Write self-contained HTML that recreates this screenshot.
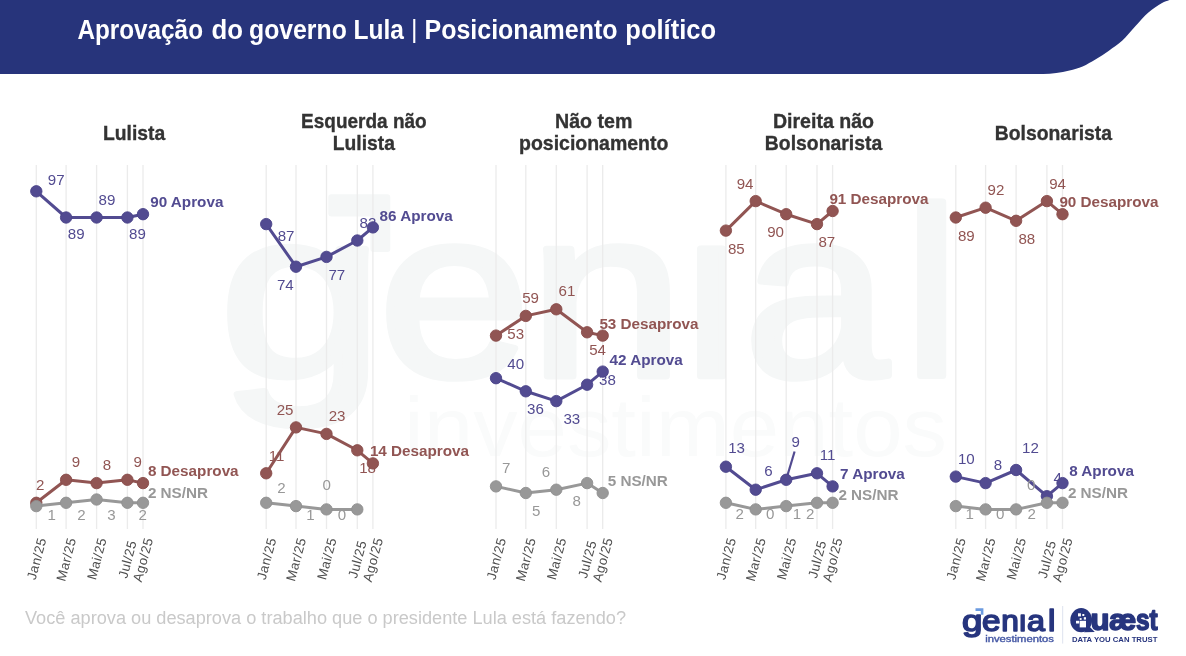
<!DOCTYPE html>
<html lang="pt-BR"><head><meta charset="utf-8"><title>Aprovação do governo Lula | Posicionamento político</title>
<style>html,body{margin:0;padding:0;background:#fff;}body{width:1186px;height:656px;overflow:hidden;}svg{display:block;}
text{font-family:"Liberation Sans",sans-serif;}
.lb{font-size:15.1px;text-anchor:middle;}
.eb{font-size:15.25px;font-weight:bold;}
.ax{font-size:13.3px;fill:#4d4d4d;text-anchor:end;letter-spacing:0.5px;}
.pt{font-size:20.8px;font-weight:bold;fill:#333333;stroke:#333333;stroke-width:0.35px;}
</style></head><body>
<svg width="1186" height="656" viewBox="0 0 1186 656">
<rect width="1186" height="656" fill="#ffffff"/>
<g id="wm" fill="#f5f7f7" stroke="#f5f7f7">
<text y="376" font-size="240" stroke-width="7" stroke-linejoin="round"><tspan x="219.00" textLength="164.77" lengthAdjust="spacingAndGlyphs">g</tspan><tspan x="378.50" textLength="151.79" lengthAdjust="spacingAndGlyphs">e</tspan><tspan x="528.50" textLength="155.48" lengthAdjust="spacingAndGlyphs">n</tspan><tspan x="684.00" textLength="55.18" lengthAdjust="spacingAndGlyphs">i</tspan><tspan x="744.00" textLength="144.18" lengthAdjust="spacingAndGlyphs">a</tspan><tspan x="904.00" textLength="55.18" lengthAdjust="spacingAndGlyphs">l</tspan></text>
<rect x="688" y="186" width="47" height="50" fill="#ffffff" stroke="none"/>
<path d="M331.5 194.3H387a3.3 3.3 0 0 1 3.3 3.3V249a3 3 0 0 1 -3 3H373.4a3 3 0 0 1 -3 -3V216.5H331.5a3.2 3.2 0 0 1 -3.2 -3.2V197.5a3.2 3.2 0 0 1 3.2 -3.2Z" stroke="none"/>
<text x="404" y="455.9" font-size="84" fill="#fafbfb" stroke="none" textLength="543" lengthAdjust="spacingAndGlyphs">investimentos</text>
</g>
<path d="M0 0H1169.5C1166.9 1.1 1165.1 1.2 1161.6 3.3C1158.1 5.4 1152.8 8.7 1148.4 12.5C1144.0 16.3 1139.7 21.6 1135.3 26.3C1130.9 31.0 1126.5 36.7 1122.1 40.8C1117.7 44.9 1113.3 47.6 1108.9 50.7C1104.5 53.8 1100.2 56.6 1095.8 59.2C1091.4 61.8 1087.0 64.5 1082.6 66.4C1078.2 68.3 1073.9 69.3 1069.5 70.4C1065.1 71.5 1060.7 72.4 1056.3 73.0C1051.9 73.6 1047.6 73.8 1043.2 74.0C1038.8 74.2 1034.4 74.0 1030.0 74.0H0Z" fill="#27347b"/>
<text font-size="27" font-weight="bold" fill="#ffffff"><tspan x="77.4" y="38.8" textLength="125.6" lengthAdjust="spacingAndGlyphs">Aprovação</tspan> <tspan x="211.6" y="38.8" textLength="31.5" lengthAdjust="spacingAndGlyphs">do</tspan> <tspan x="249.0" y="38.8" textLength="97.8" lengthAdjust="spacingAndGlyphs">governo</tspan> <tspan x="353.6" y="38.8" textLength="50.4" lengthAdjust="spacingAndGlyphs">Lula</tspan> <tspan x="411.1" y="38.2" font-weight="normal" font-size="25">|</tspan> <tspan x="424.5" y="38.8" textLength="193.0" lengthAdjust="spacingAndGlyphs">Posicionamento</tspan> <tspan x="625.3" y="38.8" textLength="90.7" lengthAdjust="spacingAndGlyphs">político</tspan></text>
<g>
<text class="pt"><tspan x="103.0" y="139.5" textLength="62.1" lengthAdjust="spacingAndGlyphs">Lulista</tspan></text>
<line x1="36.3" x2="36.3" y1="165" y2="529" stroke="#ebebeb" stroke-width="1.3"/>
<line x1="66.1" x2="66.1" y1="165" y2="529" stroke="#ebebeb" stroke-width="1.3"/>
<line x1="96.6" x2="96.6" y1="165" y2="529" stroke="#ebebeb" stroke-width="1.3"/>
<line x1="127.4" x2="127.4" y1="165" y2="529" stroke="#ebebeb" stroke-width="1.3"/>
<line x1="143.0" x2="143.0" y1="165" y2="529" stroke="#ebebeb" stroke-width="1.3"/>
<g fill="#524b91" stroke="none">
<text class="lb" x="56.2" y="185.3">97</text>
<text class="lb" x="76.2" y="238.8">89</text>
<text class="lb" x="107.0" y="205.0">89</text>
<text class="lb" x="137.5" y="238.8">89</text>
<polyline points="36.3,191.3 66.1,217.5 96.6,217.5 127.4,217.5 143.0,214.2" fill="none" stroke="#524b91" stroke-width="3" stroke-linejoin="round"/>
<circle cx="36.3" cy="191.3" r="5.7" stroke="#4a4389" stroke-width="0.9"/>
<circle cx="66.1" cy="217.5" r="5.7" stroke="#4a4389" stroke-width="0.9"/>
<circle cx="96.6" cy="217.5" r="5.7" stroke="#4a4389" stroke-width="0.9"/>
<circle cx="127.4" cy="217.5" r="5.7" stroke="#4a4389" stroke-width="0.9"/>
<circle cx="143.0" cy="214.2" r="5.7" stroke="#4a4389" stroke-width="0.9"/>
<text class="eb" x="150.2" y="207.2">90 Aprova</text>
</g>
<g fill="#915553" stroke="none">
<text class="lb" x="40.2" y="489.7">2</text>
<text class="lb" x="76.0" y="466.9">9</text>
<text class="lb" x="107.0" y="470.1">8</text>
<text class="lb" x="137.8" y="466.9">9</text>
<polyline points="36.3,502.8 66.1,479.8 96.6,483.1 127.4,479.8 143.0,483.1" fill="none" stroke="#915553" stroke-width="3" stroke-linejoin="round"/>
<circle cx="36.3" cy="502.8" r="5.7" stroke="#894c4a" stroke-width="0.9"/>
<circle cx="66.1" cy="479.8" r="5.7" stroke="#894c4a" stroke-width="0.9"/>
<circle cx="96.6" cy="483.1" r="5.7" stroke="#894c4a" stroke-width="0.9"/>
<circle cx="127.4" cy="479.8" r="5.7" stroke="#894c4a" stroke-width="0.9"/>
<circle cx="143.0" cy="483.1" r="5.7" stroke="#894c4a" stroke-width="0.9"/>
<text class="eb" x="147.9" y="476.2">8 Desaprova</text>
</g>
<g fill="#989898" stroke="none">
<text class="lb" x="51.7" y="519.5">1</text>
<text class="lb" x="81.5" y="519.5">2</text>
<text class="lb" x="111.5" y="519.5">3</text>
<text class="lb" x="142.7" y="519.5">2</text>
<polyline points="36.3,506.1 66.1,502.8 96.6,499.5 127.4,502.8 143.0,502.8" fill="none" stroke="#989898" stroke-width="3" stroke-linejoin="round"/>
<circle cx="36.3" cy="506.1" r="5.7" stroke="#909090" stroke-width="0.9"/>
<circle cx="66.1" cy="502.8" r="5.7" stroke="#909090" stroke-width="0.9"/>
<circle cx="96.6" cy="499.5" r="5.7" stroke="#909090" stroke-width="0.9"/>
<circle cx="127.4" cy="502.8" r="5.7" stroke="#909090" stroke-width="0.9"/>
<circle cx="143.0" cy="502.8" r="5.7" stroke="#909090" stroke-width="0.9"/>
<text class="eb" x="147.9" y="498.0">2 NS/NR</text>
</g>
<text class="ax" transform="translate(46.6,539.1) rotate(-75)">Jan/25</text>
<text class="ax" transform="translate(76.4,539.1) rotate(-75)">Mar/25</text>
<text class="ax" transform="translate(106.9,539.1) rotate(-75)">Mai/25</text>
<text class="ax" transform="translate(136.9,541.9) rotate(-75)">Jul/25</text>
<text class="ax" transform="translate(153.3,539.1) rotate(-75)">Ago/25</text>
</g>
<g>
<text class="pt"><tspan x="301.1" y="128.4" textLength="125.6" lengthAdjust="spacingAndGlyphs">Esquerda não</tspan> <tspan x="332.8" y="150.3" textLength="62.1" lengthAdjust="spacingAndGlyphs">Lulista</tspan></text>
<line x1="266.2" x2="266.2" y1="165" y2="529" stroke="#ebebeb" stroke-width="1.3"/>
<line x1="296.0" x2="296.0" y1="165" y2="529" stroke="#ebebeb" stroke-width="1.3"/>
<line x1="326.5" x2="326.5" y1="165" y2="529" stroke="#ebebeb" stroke-width="1.3"/>
<line x1="357.3" x2="357.3" y1="165" y2="529" stroke="#ebebeb" stroke-width="1.3"/>
<line x1="372.9" x2="372.9" y1="165" y2="529" stroke="#ebebeb" stroke-width="1.3"/>
<g fill="#524b91" stroke="none">
<text class="lb" x="286.1" y="241.0">87</text>
<text class="lb" x="285.3" y="290.0">74</text>
<text class="lb" x="336.8" y="280.2">77</text>
<text class="lb" x="367.9" y="228.0">82</text>
<polyline points="266.2,224.1 296.0,266.7 326.5,256.9 357.3,240.5 372.9,227.4" fill="none" stroke="#524b91" stroke-width="3" stroke-linejoin="round"/>
<circle cx="266.2" cy="224.1" r="5.7" stroke="#4a4389" stroke-width="0.9"/>
<circle cx="296.0" cy="266.7" r="5.7" stroke="#4a4389" stroke-width="0.9"/>
<circle cx="326.5" cy="256.9" r="5.7" stroke="#4a4389" stroke-width="0.9"/>
<circle cx="357.3" cy="240.5" r="5.7" stroke="#4a4389" stroke-width="0.9"/>
<circle cx="372.9" cy="227.4" r="5.7" stroke="#4a4389" stroke-width="0.9"/>
<text class="eb" x="379.6" y="221.0">86 Aprova</text>
</g>
<g fill="#915553" stroke="none">
<text class="lb" x="276.6" y="460.5">11</text>
<text class="lb" x="285.1" y="414.6">25</text>
<text class="lb" x="337.1" y="420.7">23</text>
<text class="lb" x="367.6" y="473.4">18</text>
<polyline points="266.2,473.3 296.0,427.4 326.5,433.9 357.3,450.3 372.9,463.4" fill="none" stroke="#915553" stroke-width="3" stroke-linejoin="round"/>
<circle cx="266.2" cy="473.3" r="5.7" stroke="#894c4a" stroke-width="0.9"/>
<circle cx="296.0" cy="427.4" r="5.7" stroke="#894c4a" stroke-width="0.9"/>
<circle cx="326.5" cy="433.9" r="5.7" stroke="#894c4a" stroke-width="0.9"/>
<circle cx="357.3" cy="450.3" r="5.7" stroke="#894c4a" stroke-width="0.9"/>
<circle cx="372.9" cy="463.4" r="5.7" stroke="#894c4a" stroke-width="0.9"/>
<text class="eb" x="369.9" y="456.3">14 Desaprova</text>
</g>
<g fill="#989898" stroke="none">
<text class="lb" x="281.5" y="493.4">2</text>
<text class="lb" x="326.6" y="489.8">0</text>
<text class="lb" x="310.5" y="519.5">1</text>
<text class="lb" x="342.0" y="519.5">0</text>
<polyline points="266.2,502.8 296.0,506.1 326.5,509.4 357.3,509.4" fill="none" stroke="#989898" stroke-width="3" stroke-linejoin="round"/>
<circle cx="266.2" cy="502.8" r="5.7" stroke="#909090" stroke-width="0.9"/>
<circle cx="296.0" cy="506.1" r="5.7" stroke="#909090" stroke-width="0.9"/>
<circle cx="326.5" cy="509.4" r="5.7" stroke="#909090" stroke-width="0.9"/>
<circle cx="357.3" cy="509.4" r="5.7" stroke="#909090" stroke-width="0.9"/>
</g>
<text class="ax" transform="translate(276.5,539.1) rotate(-75)">Jan/25</text>
<text class="ax" transform="translate(306.3,539.1) rotate(-75)">Mar/25</text>
<text class="ax" transform="translate(336.8,539.1) rotate(-75)">Mai/25</text>
<text class="ax" transform="translate(366.8,541.9) rotate(-75)">Jul/25</text>
<text class="ax" transform="translate(383.2,539.1) rotate(-75)">Ago/25</text>
</g>
<g>
<text class="pt"><tspan x="555.0" y="128.4" textLength="77.4" lengthAdjust="spacingAndGlyphs">Não tem</tspan> <tspan x="519.0" y="150.3" textLength="149.4" lengthAdjust="spacingAndGlyphs">posicionamento</tspan></text>
<line x1="496.0" x2="496.0" y1="165" y2="529" stroke="#ebebeb" stroke-width="1.3"/>
<line x1="525.8" x2="525.8" y1="165" y2="529" stroke="#ebebeb" stroke-width="1.3"/>
<line x1="556.3" x2="556.3" y1="165" y2="529" stroke="#ebebeb" stroke-width="1.3"/>
<line x1="587.1" x2="587.1" y1="165" y2="529" stroke="#ebebeb" stroke-width="1.3"/>
<line x1="602.7" x2="602.7" y1="165" y2="529" stroke="#ebebeb" stroke-width="1.3"/>
<g fill="#524b91" stroke="none">
<text class="lb" x="515.7" y="368.8">40</text>
<text class="lb" x="535.5" y="413.9">36</text>
<text class="lb" x="571.8" y="424.1">33</text>
<text class="lb" x="607.4" y="384.6">38</text>
<polyline points="496.0,378.2 525.8,391.3 556.3,401.1 587.1,384.7 602.7,371.6" fill="none" stroke="#524b91" stroke-width="3" stroke-linejoin="round"/>
<circle cx="496.0" cy="378.2" r="5.7" stroke="#4a4389" stroke-width="0.9"/>
<circle cx="525.8" cy="391.3" r="5.7" stroke="#4a4389" stroke-width="0.9"/>
<circle cx="556.3" cy="401.1" r="5.7" stroke="#4a4389" stroke-width="0.9"/>
<circle cx="587.1" cy="384.7" r="5.7" stroke="#4a4389" stroke-width="0.9"/>
<circle cx="602.7" cy="371.6" r="5.7" stroke="#4a4389" stroke-width="0.9"/>
<text class="eb" x="609.6" y="364.6">42 Aprova</text>
</g>
<g fill="#915553" stroke="none">
<text class="lb" x="515.7" y="339.0">53</text>
<text class="lb" x="530.6" y="303.0">59</text>
<text class="lb" x="567.0" y="296.3">61</text>
<text class="lb" x="597.6" y="355.4">54</text>
<polyline points="496.0,335.6 525.8,315.9 556.3,309.3 587.1,332.3 602.7,335.6" fill="none" stroke="#915553" stroke-width="3" stroke-linejoin="round"/>
<circle cx="496.0" cy="335.6" r="5.7" stroke="#894c4a" stroke-width="0.9"/>
<circle cx="525.8" cy="315.9" r="5.7" stroke="#894c4a" stroke-width="0.9"/>
<circle cx="556.3" cy="309.3" r="5.7" stroke="#894c4a" stroke-width="0.9"/>
<circle cx="587.1" cy="332.3" r="5.7" stroke="#894c4a" stroke-width="0.9"/>
<circle cx="602.7" cy="335.6" r="5.7" stroke="#894c4a" stroke-width="0.9"/>
<text class="eb" x="599.4" y="328.5">53 Desaprova</text>
</g>
<g fill="#989898" stroke="none">
<text class="lb" x="506.1" y="473.4">7</text>
<text class="lb" x="545.9" y="476.6">6</text>
<text class="lb" x="536.3" y="515.6">5</text>
<text class="lb" x="576.6" y="505.9">8</text>
<polyline points="496.0,486.4 525.8,493.0 556.3,489.7 587.1,483.1 602.7,493.0" fill="none" stroke="#989898" stroke-width="3" stroke-linejoin="round"/>
<circle cx="496.0" cy="486.4" r="5.7" stroke="#909090" stroke-width="0.9"/>
<circle cx="525.8" cy="493.0" r="5.7" stroke="#909090" stroke-width="0.9"/>
<circle cx="556.3" cy="489.7" r="5.7" stroke="#909090" stroke-width="0.9"/>
<circle cx="587.1" cy="483.1" r="5.7" stroke="#909090" stroke-width="0.9"/>
<circle cx="602.7" cy="493.0" r="5.7" stroke="#909090" stroke-width="0.9"/>
<text class="eb" x="607.7" y="485.6">5 NS/NR</text>
</g>
<text class="ax" transform="translate(506.3,539.1) rotate(-75)">Jan/25</text>
<text class="ax" transform="translate(536.1,539.1) rotate(-75)">Mar/25</text>
<text class="ax" transform="translate(566.6,539.1) rotate(-75)">Mai/25</text>
<text class="ax" transform="translate(596.7,541.9) rotate(-75)">Jul/25</text>
<text class="ax" transform="translate(613.0,539.1) rotate(-75)">Ago/25</text>
</g>
<g>
<text class="pt"><tspan x="772.9" y="128.4" textLength="101.2" lengthAdjust="spacingAndGlyphs">Direita não</tspan> <tspan x="764.8" y="150.3" textLength="117.4" lengthAdjust="spacingAndGlyphs">Bolsonarista</tspan></text>
<line x1="725.9" x2="725.9" y1="165" y2="529" stroke="#ebebeb" stroke-width="1.3"/>
<line x1="755.7" x2="755.7" y1="165" y2="529" stroke="#ebebeb" stroke-width="1.3"/>
<line x1="786.2" x2="786.2" y1="165" y2="529" stroke="#ebebeb" stroke-width="1.3"/>
<line x1="817.0" x2="817.0" y1="165" y2="529" stroke="#ebebeb" stroke-width="1.3"/>
<line x1="832.6" x2="832.6" y1="165" y2="529" stroke="#ebebeb" stroke-width="1.3"/>
<g fill="#524b91" stroke="none">
<text class="lb" x="736.6" y="453.4">13</text>
<text class="lb" x="768.5" y="476.3">6</text>
<text class="lb" x="795.6" y="446.6">9</text>
<text class="lb" x="827.6" y="460.0">11</text>
<line x1="786.3" y1="479.3" x2="794.6" y2="451.5" stroke="#524b91" stroke-width="2.2" stroke-linecap="butt"/>
<polyline points="725.9,466.7 755.7,489.7 786.2,479.8 817.0,473.3 832.6,486.4" fill="none" stroke="#524b91" stroke-width="3" stroke-linejoin="round"/>
<circle cx="725.9" cy="466.7" r="5.7" stroke="#4a4389" stroke-width="0.9"/>
<circle cx="755.7" cy="489.7" r="5.7" stroke="#4a4389" stroke-width="0.9"/>
<circle cx="786.2" cy="479.8" r="5.7" stroke="#4a4389" stroke-width="0.9"/>
<circle cx="817.0" cy="473.3" r="5.7" stroke="#4a4389" stroke-width="0.9"/>
<circle cx="832.6" cy="486.4" r="5.7" stroke="#4a4389" stroke-width="0.9"/>
<text class="eb" x="840.1" y="479.0">7 Aprova</text>
</g>
<g fill="#915553" stroke="none">
<text class="lb" x="745.1" y="188.5">94</text>
<text class="lb" x="736.3" y="253.7">85</text>
<text class="lb" x="775.6" y="237.1">90</text>
<text class="lb" x="826.8" y="247.1">87</text>
<polyline points="725.9,230.6 755.7,201.1 786.2,214.2 817.0,224.1 832.6,211.0" fill="none" stroke="#915553" stroke-width="3" stroke-linejoin="round"/>
<circle cx="725.9" cy="230.6" r="5.7" stroke="#894c4a" stroke-width="0.9"/>
<circle cx="755.7" cy="201.1" r="5.7" stroke="#894c4a" stroke-width="0.9"/>
<circle cx="786.2" cy="214.2" r="5.7" stroke="#894c4a" stroke-width="0.9"/>
<circle cx="817.0" cy="224.1" r="5.7" stroke="#894c4a" stroke-width="0.9"/>
<circle cx="832.6" cy="211.0" r="5.7" stroke="#894c4a" stroke-width="0.9"/>
<text class="eb" x="829.4" y="203.9">91 Desaprova</text>
</g>
<g fill="#989898" stroke="none">
<text class="lb" x="739.8" y="519.3">2</text>
<text class="lb" x="770.2" y="519.3">0</text>
<text class="lb" x="797.0" y="519.3">1</text>
<text class="lb" x="810.2" y="519.3">2</text>
<polyline points="725.9,502.8 755.7,509.4 786.2,506.1 817.0,502.8 832.6,502.8" fill="none" stroke="#989898" stroke-width="3" stroke-linejoin="round"/>
<circle cx="725.9" cy="502.8" r="5.7" stroke="#909090" stroke-width="0.9"/>
<circle cx="755.7" cy="509.4" r="5.7" stroke="#909090" stroke-width="0.9"/>
<circle cx="786.2" cy="506.1" r="5.7" stroke="#909090" stroke-width="0.9"/>
<circle cx="817.0" cy="502.8" r="5.7" stroke="#909090" stroke-width="0.9"/>
<circle cx="832.6" cy="502.8" r="5.7" stroke="#909090" stroke-width="0.9"/>
<text class="eb" x="838.4" y="499.8">2 NS/NR</text>
</g>
<text class="ax" transform="translate(736.2,539.1) rotate(-75)">Jan/25</text>
<text class="ax" transform="translate(766.0,539.1) rotate(-75)">Mar/25</text>
<text class="ax" transform="translate(796.5,539.1) rotate(-75)">Mai/25</text>
<text class="ax" transform="translate(826.6,541.9) rotate(-75)">Jul/25</text>
<text class="ax" transform="translate(842.9,539.1) rotate(-75)">Ago/25</text>
</g>
<g>
<text class="pt"><tspan x="994.7" y="139.5" textLength="117.4" lengthAdjust="spacingAndGlyphs">Bolsonarista</tspan></text>
<line x1="955.8" x2="955.8" y1="165" y2="529" stroke="#ebebeb" stroke-width="1.3"/>
<line x1="985.6" x2="985.6" y1="165" y2="529" stroke="#ebebeb" stroke-width="1.3"/>
<line x1="1016.1" x2="1016.1" y1="165" y2="529" stroke="#ebebeb" stroke-width="1.3"/>
<line x1="1046.9" x2="1046.9" y1="165" y2="529" stroke="#ebebeb" stroke-width="1.3"/>
<line x1="1062.5" x2="1062.5" y1="165" y2="529" stroke="#ebebeb" stroke-width="1.3"/>
<g fill="#524b91" stroke="none">
<text class="lb" x="966.3" y="463.7">10</text>
<text class="lb" x="998.0" y="470.2">8</text>
<text class="lb" x="1030.5" y="453.4">12</text>
<text class="lb" x="1057.8" y="483.2">4</text>
<polyline points="955.8,476.6 985.6,483.1 1016.1,470.0 1046.9,496.2 1062.5,483.1" fill="none" stroke="#524b91" stroke-width="3" stroke-linejoin="round"/>
<circle cx="955.8" cy="476.6" r="5.7" stroke="#4a4389" stroke-width="0.9"/>
<circle cx="985.6" cy="483.1" r="5.7" stroke="#4a4389" stroke-width="0.9"/>
<circle cx="1016.1" cy="470.0" r="5.7" stroke="#4a4389" stroke-width="0.9"/>
<circle cx="1046.9" cy="496.2" r="5.7" stroke="#4a4389" stroke-width="0.9"/>
<circle cx="1062.5" cy="483.1" r="5.7" stroke="#4a4389" stroke-width="0.9"/>
<text class="eb" x="1069.2" y="475.9">8 Aprova</text>
</g>
<g fill="#915553" stroke="none">
<text class="lb" x="966.3" y="240.5">89</text>
<text class="lb" x="995.9" y="194.9">92</text>
<text class="lb" x="1026.8" y="243.7">88</text>
<text class="lb" x="1057.6" y="188.5">94</text>
<polyline points="955.8,217.5 985.6,207.7 1016.1,220.8 1046.9,201.1 1062.5,214.2" fill="none" stroke="#915553" stroke-width="3" stroke-linejoin="round"/>
<circle cx="955.8" cy="217.5" r="5.7" stroke="#894c4a" stroke-width="0.9"/>
<circle cx="985.6" cy="207.7" r="5.7" stroke="#894c4a" stroke-width="0.9"/>
<circle cx="1016.1" cy="220.8" r="5.7" stroke="#894c4a" stroke-width="0.9"/>
<circle cx="1046.9" cy="201.1" r="5.7" stroke="#894c4a" stroke-width="0.9"/>
<circle cx="1062.5" cy="214.2" r="5.7" stroke="#894c4a" stroke-width="0.9"/>
<text class="eb" x="1059.4" y="206.8">90 Desaprova</text>
</g>
<g fill="#989898" stroke="none">
<text class="lb" x="1031.2" y="489.8">0</text>
<text class="lb" x="969.8" y="519.3">1</text>
<text class="lb" x="1000.2" y="519.3">0</text>
<text class="lb" x="1031.7" y="519.3">2</text>
<polyline points="955.8,506.1 985.6,509.4 1016.1,509.4 1046.9,502.8 1062.5,502.8" fill="none" stroke="#989898" stroke-width="3" stroke-linejoin="round"/>
<circle cx="955.8" cy="506.1" r="5.7" stroke="#909090" stroke-width="0.9"/>
<circle cx="985.6" cy="509.4" r="5.7" stroke="#909090" stroke-width="0.9"/>
<circle cx="1016.1" cy="509.4" r="5.7" stroke="#909090" stroke-width="0.9"/>
<circle cx="1046.9" cy="502.8" r="5.7" stroke="#909090" stroke-width="0.9"/>
<circle cx="1062.5" cy="502.8" r="5.7" stroke="#909090" stroke-width="0.9"/>
<text class="eb" x="1067.9" y="497.8">2 NS/NR</text>
</g>
<text class="ax" transform="translate(966.1,539.1) rotate(-75)">Jan/25</text>
<text class="ax" transform="translate(995.9,539.1) rotate(-75)">Mar/25</text>
<text class="ax" transform="translate(1026.4,539.1) rotate(-75)">Mai/25</text>
<text class="ax" transform="translate(1056.4,541.9) rotate(-75)">Jul/25</text>
<text class="ax" transform="translate(1072.8,539.1) rotate(-75)">Ago/25</text>
</g>
<text x="25" y="624.3" font-size="18" fill="#c9c9c9" textLength="601" lengthAdjust="spacingAndGlyphs">Você aprova ou desaprova o trabalho que o presidente Lula está fazendo?</text>
<g id="logos">
<text y="631.3" font-size="30" fill="#27357e" stroke="#27357e" stroke-width="1.6" stroke-linejoin="round"><tspan x="962.00" textLength="20.42" lengthAdjust="spacingAndGlyphs">g</tspan><tspan x="982.02" textLength="18.50" lengthAdjust="spacingAndGlyphs">e</tspan><tspan x="1001.18" textLength="17.60" lengthAdjust="spacingAndGlyphs">n</tspan><tspan x="1019.28" textLength="6.89" lengthAdjust="spacingAndGlyphs">i</tspan><tspan x="1027.03" textLength="17.96" lengthAdjust="spacingAndGlyphs">a</tspan><tspan x="1047.95" textLength="7.38" lengthAdjust="spacingAndGlyphs">l</tspan></text>
<rect x="1019.3" y="606.5" width="7" height="6.9" fill="#ffffff"/>
<path d="M975.5 608.3h7.9v6.5h-2.6v-3.9h-5.3z" fill="#6c9be0"/>
<text x="985.2" y="641.5" font-size="8.2" fill="#4659a5" stroke="#4659a5" stroke-width="0.35" textLength="68.7" lengthAdjust="spacingAndGlyphs">investimentos</text>
<line x1="1062.7" x2="1062.7" y1="606" y2="643.6" stroke="#dde2ee" stroke-width="1"/>
<text y="630.4" font-size="30" font-weight="bold" fill="#27357e" stroke="#27357e" stroke-width="1.5" stroke-linejoin="round"><tspan x="1073" y="627" font-size="21" stroke-width="0">Q</tspan><tspan x="1090.62" y="630.4" textLength="19.07" lengthAdjust="spacingAndGlyphs">u</tspan><tspan x="1109.10" y="630.4" textLength="27.33" lengthAdjust="spacingAndGlyphs">æ</tspan><tspan x="1136.00" y="630.4" textLength="13.59" lengthAdjust="spacingAndGlyphs">s</tspan><tspan x="1149.62" y="630.4" textLength="8.16" lengthAdjust="spacingAndGlyphs">t</tspan></text>
<ellipse cx="1081.2" cy="620.2" rx="10.9" ry="12.1" fill="#27357e"/>
<path d="M1089.4 626.5L1094.8 631.9L1084 632.2Z" fill="#27357e"/>
<g fill="#ffffff"><rect x="1079.7" y="620.8" width="6.3" height="6.6"/><rect x="1076" y="620.8" width="3.2" height="2.7"/><rect x="1078" y="613.3" width="2.9" height="3.1"/><rect x="1082.3" y="614" width="2" height="2"/><rect x="1083.8" y="617.2" width="2.2" height="2.4"/><rect x="1079.7" y="618.1" width="1.9" height="1.8"/></g>
<text x="1071.9" y="641.7" font-size="6.5" font-weight="bold" fill="#27357e" textLength="85.5" lengthAdjust="spacingAndGlyphs">DATA YOU CAN TRUST</text>
</g>
</svg></body></html>
